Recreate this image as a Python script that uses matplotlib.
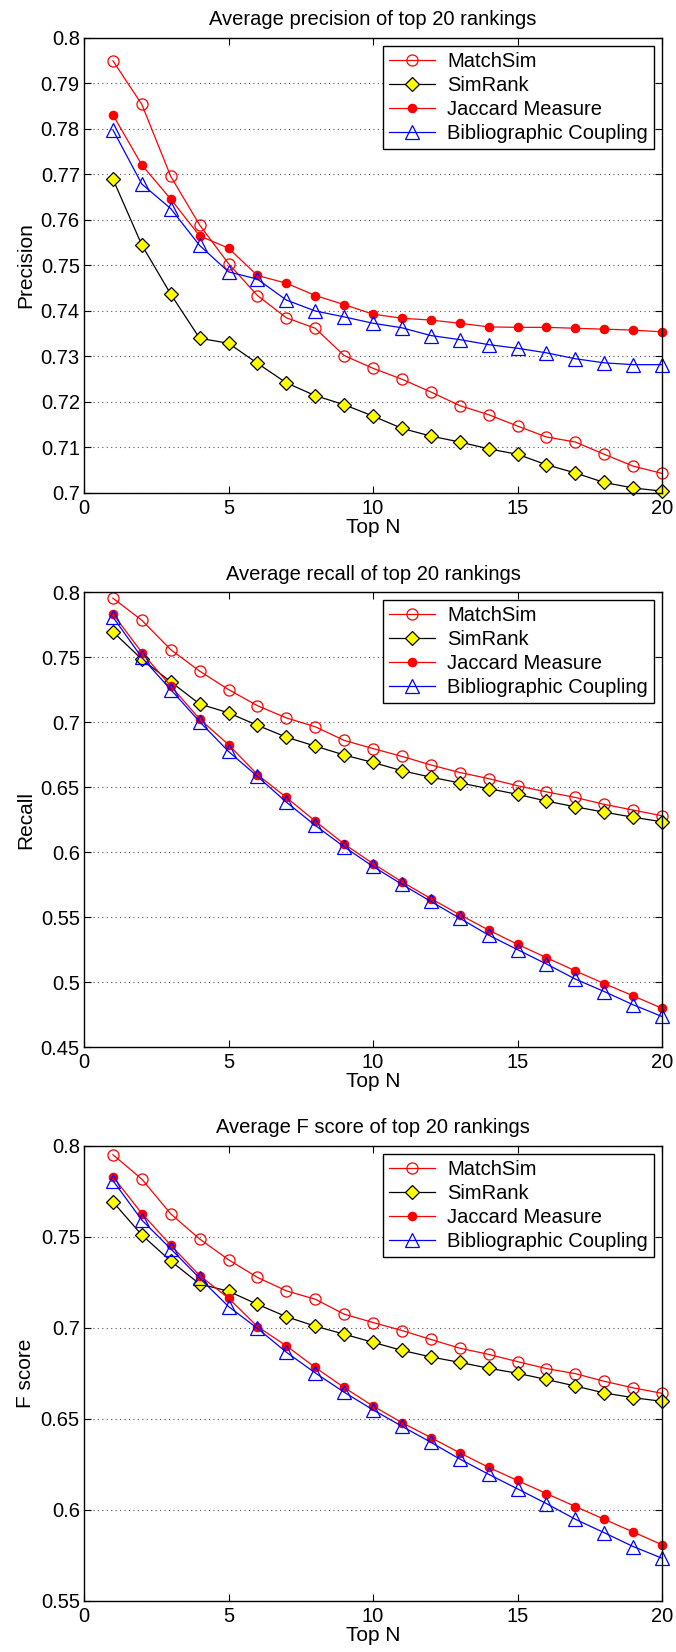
import matplotlib
matplotlib.use('Agg')
import matplotlib.pyplot as plt

plt.rcParams['font.family'] = ['Liberation Sans', 'DejaVu Sans']

top_n = list(range(1, 21))
names = ['MatchSim', 'SimRank', 'Jaccard Measure', 'Bibliographic Coupling']

# precision
prec_matchsim = [0.7950, 0.7854, 0.7696, 0.7589, 0.7504, 0.7434, 0.7385, 0.7362, 0.7302, 0.7274,
                 0.7250, 0.7222, 0.7192, 0.7172, 0.7147, 0.7123, 0.7112, 0.7085, 0.7059, 0.7043]
prec_simrank = [0.7690, 0.7545, 0.7437, 0.7340, 0.7329, 0.7285, 0.7242, 0.7214, 0.7194, 0.7169,
                0.7142, 0.7125, 0.7112, 0.7097, 0.7085, 0.7062, 0.7044, 0.7023, 0.7011, 0.7004]
prec_jaccard = [0.7831, 0.7721, 0.7646, 0.7565, 0.7538, 0.7478, 0.7461, 0.7434, 0.7414, 0.7393,
                0.7384, 0.7380, 0.7373, 0.7365, 0.7364, 0.7364, 0.7362, 0.7360, 0.7358, 0.7354]
prec_biblio = [0.7798, 0.7679, 0.7625, 0.7544, 0.7486, 0.7470, 0.7424, 0.7400, 0.7387, 0.7373,
               0.7363, 0.7346, 0.7337, 0.7326, 0.7318, 0.7308, 0.7295, 0.7286, 0.7282, 0.7282]

# recall
rec_matchsim = [0.7953, 0.7783, 0.7557, 0.7392, 0.7250, 0.7126, 0.7032, 0.6964, 0.6859, 0.6796,
                0.6736, 0.6670, 0.6612, 0.6565, 0.6510, 0.6463, 0.6420, 0.6367, 0.6323, 0.6279]
rec_simrank = [0.7695, 0.7483, 0.7310, 0.7139, 0.7071, 0.6975, 0.6884, 0.6815, 0.6747, 0.6689,
               0.6626, 0.6576, 0.6532, 0.6488, 0.6444, 0.6392, 0.6348, 0.6307, 0.6268, 0.6233]
rec_jaccard = [0.7832, 0.7535, 0.7277, 0.7024, 0.6826, 0.6596, 0.6420, 0.6238, 0.6062, 0.5911,
               0.5771, 0.5642, 0.5518, 0.5400, 0.5290, 0.5188, 0.5086, 0.4988, 0.4894, 0.4798]
rec_biblio = [0.7808, 0.7497, 0.7250, 0.7003, 0.6774, 0.6582, 0.6384, 0.6205, 0.6040, 0.5889,
              0.5752, 0.5620, 0.5491, 0.5361, 0.5249, 0.5139, 0.5023, 0.4927, 0.4825, 0.4735]

# F score
f_matchsim = [0.7952, 0.7818, 0.7627, 0.7489, 0.7375, 0.7278, 0.7204, 0.7158, 0.7076, 0.7030,
              0.6986, 0.6937, 0.6889, 0.6855, 0.6815, 0.6777, 0.6749, 0.6707, 0.6671, 0.6641]
f_simrank = [0.7693, 0.7511, 0.7368, 0.7242, 0.7202, 0.7130, 0.7062, 0.7010, 0.6966, 0.6921,
             0.6877, 0.6841, 0.6811, 0.6779, 0.6751, 0.6717, 0.6681, 0.6643, 0.6617, 0.6597]
f_jaccard = [0.7832, 0.7629, 0.7455, 0.7288, 0.7164, 0.7008, 0.6902, 0.6783, 0.6673, 0.6571,
             0.6480, 0.6398, 0.6314, 0.6234, 0.6162, 0.6090, 0.6019, 0.5949, 0.5879, 0.5809]
f_biblio = [0.7810, 0.7593, 0.7435, 0.7274, 0.7118, 0.6998, 0.6867, 0.6753, 0.6647, 0.6550,
            0.6460, 0.6372, 0.6280, 0.6196, 0.6116, 0.6035, 0.5949, 0.5875, 0.5799, 0.5735]

panels = [
    ('Average precision of top 20 rankings', 'Precision', (0.7, 0.8), 0.01,
     [prec_matchsim, prec_simrank, prec_jaccard, prec_biblio]),
    ('Average recall of top 20 rankings', 'Recall', (0.45, 0.8), 0.05,
     [rec_matchsim, rec_simrank, rec_jaccard, rec_biblio]),
    ('Average F score of top 20 rankings', 'F score', (0.55, 0.8), 0.05,
     [f_matchsim, f_simrank, f_jaccard, f_biblio]),
]

styles = [
    dict(color='red', marker='o', markerfacecolor='none', markeredgecolor='red', markersize=8),
    dict(color='black', marker='D', markerfacecolor='yellow', markeredgecolor='black', markersize=7.5),
    dict(color='red', marker='o', markerfacecolor='red', markeredgecolor='red', markersize=6),
    dict(color='blue', marker='^', markerfacecolor='none', markeredgecolor='blue', markersize=10),
]

fig = plt.figure(figsize=(6.76, 16.52), dpi=100)
bottoms = [0.7016, 0.3662, 0.0309]

for index, (title, ylabel, ylim, ystep, series) in enumerate(panels):
    ax = fig.add_axes([0.1243, bottoms[index], 0.855, 0.2754])
    for name, values, style in zip(names, series, styles):
        ax.plot(top_n, values, linewidth=0.9, markeredgewidth=0.9, label=name, clip_on=False, **style)
    ax.set_xlim(0, 20)
    ax.set_ylim(*ylim)
    nticks = int(round((ylim[1] - ylim[0]) / ystep))
    ax.set_yticks([round(ylim[0] + i * ystep, 2) for i in range(nticks + 1)])
    ax.set_yticklabels(['{:g}'.format(round(ylim[0] + i * ystep, 2)) for i in range(nticks + 1)])
    ax.set_xticks([0, 5, 10, 15, 20])
    ax.yaxis.grid(True, linestyle=(0, (1, 3)), color='#555555', linewidth=0.8)
    ax.tick_params(direction='in', top=True, right=True, length=5, width=0.8, labelsize=14.5)
    ax.tick_params(axis='y', pad=3)
    ax.tick_params(axis='x', pad=4)
    for spine in ax.spines.values():
        spine.set_linewidth(1.0)
    ax.set_title(title, fontsize=14.5, pad=9)
    ax.set_xlabel('Top N', fontsize=15, labelpad=0)
    ax.set_ylabel(ylabel, fontsize=15, labelpad=4)
    leg = ax.legend(loc='upper right', fontsize=14.5, handlelength=2.3, handletextpad=0.6,
                    borderaxespad=0.4, fancybox=False, framealpha=1, borderpad=0.3,
                    labelspacing=0.25)
    leg.get_frame().set_edgecolor('black')
    leg.get_frame().set_linewidth(1.0)

plt.savefig('out.png', dpi=100)
